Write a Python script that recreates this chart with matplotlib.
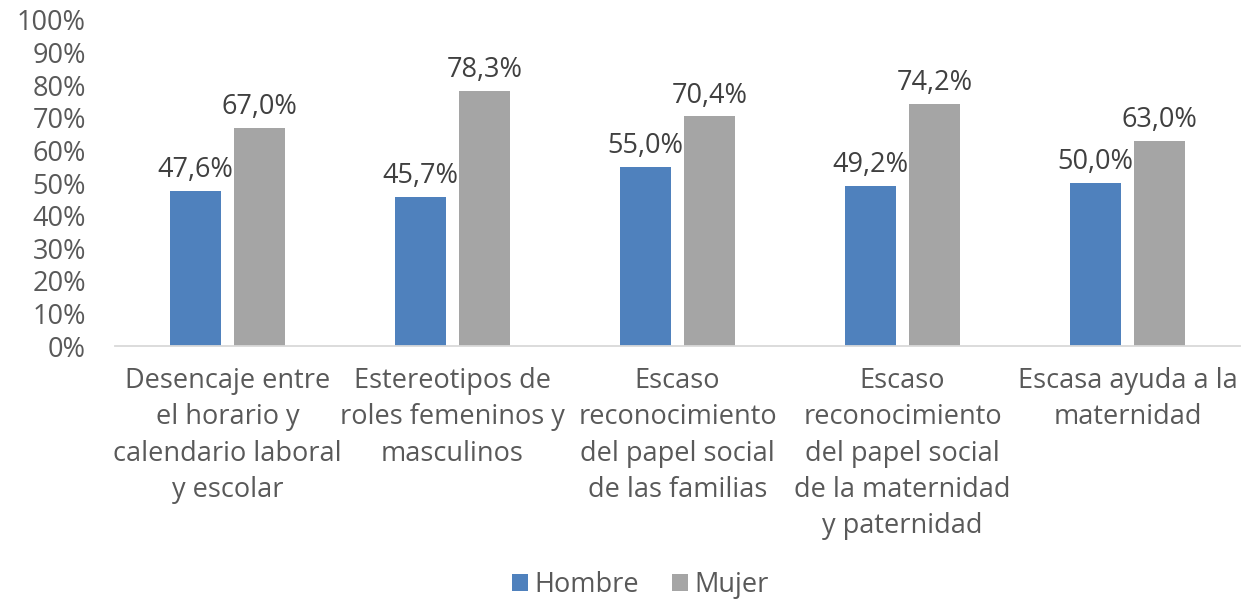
import matplotlib
matplotlib.use("Agg")
import matplotlib.pyplot as plt
import numpy as np
from matplotlib.ticker import FuncFormatter

categories = [
    "Desencaje entre\nel horario y\ncalendario laboral\ny escolar",
    "Estereotipos de\nroles femeninos y\nmasculinos",
    "Escaso\nreconocimiento\ndel papel social\nde las familias",
    "Escaso\nreconocimiento\ndel papel social\nde la maternidad\ny paternidad",
    "Escasa ayuda a la\nmaternidad",
]
hombre = [47.6, 45.7, 55.0, 49.2, 50.0]
mujer = [67.0, 78.3, 70.4, 74.2, 63.0]
series_names = ["Hombre", "Mujer"]
yticks = list(range(0, 101, 10))

plt.rcParams['font.family'] = ['Open Sans', 'DejaVu Sans']
text_color = "#595959"
fs = 19.5

fig = plt.figure(figsize=(12.41, 6.05), dpi=100)
ax = fig.add_axes([0.0927, 0.428, 0.9065, 0.539])

x = np.arange(len(categories))
w = 0.227
off = 0.144
b1 = ax.bar(x - off, hombre, w, color="#4F81BD", label=series_names[0])
b2 = ax.bar(x + off, mujer, w, color="#A5A5A5", label=series_names[1])

for bars, vals in ((b1, hombre), (b2, mujer)):
    for b, v in zip(bars, vals):
        ax.annotate(f"{v:.1f}%".replace(".", ","), (b.get_x() + b.get_width() / 2, v),
                    xytext=(0, 5), textcoords="offset points", ha="center", va="bottom",
                    fontsize=fs, color="#404040")

ax.set_xlim(-0.5, len(categories) - 0.5)
ax.set_ylim(0, 100)
ax.set_yticks(yticks)
ax.yaxis.set_major_formatter(FuncFormatter(lambda v, p: f"{int(v)}%"))
ax.set_xticks(x)
ax.set_xticklabels(categories, fontsize=fs, color=text_color, linespacing=1.4)
ax.tick_params(axis="y", length=0, labelsize=fs, labelcolor=text_color, pad=21)
ax.tick_params(axis="x", length=0, pad=15)
for s in ["top", "right", "left"]:
    ax.spines[s].set_visible(False)
ax.spines["bottom"].set_color("#D9D9D9")
ax.spines["bottom"].set_linewidth(1.3)

fig.legend(handles=[b1, b2], labels=series_names, loc="lower center",
           bbox_to_anchor=(0.516, -0.03), ncol=2, frameon=False, fontsize=fs,
           labelcolor=text_color, handlelength=0.6, handleheight=0.6,
           handletextpad=0.25, columnspacing=1.2)

fig.savefig("out.png", dpi=100)
